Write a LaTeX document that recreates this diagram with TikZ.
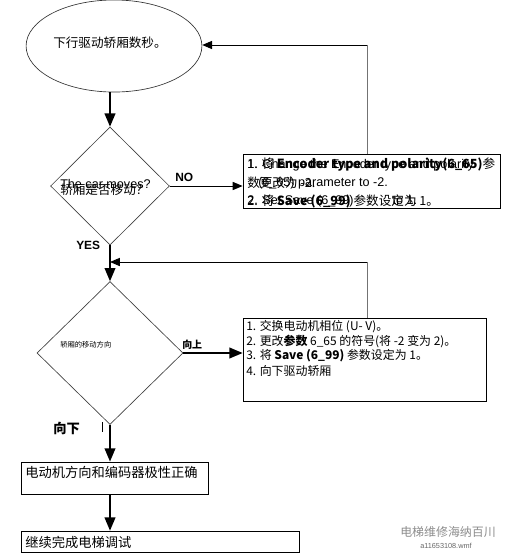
\documentclass[tikz,border=0pt]{standalone}
\usepackage{fontspec}
\setmainfont{Liberation Sans}
\newfontfamily\cjk{Noto Sans CJK SC}
\usepackage{tikz}
\usetikzlibrary{calc}
\usetikzlibrary{arrows}
\usetikzlibrary{shapes.geometric}

\tikzset{
  box/.style={draw,rectangle,inner sep=0pt,line width=0.7pt},
  decision/.style={draw=black!75,diamond,inner sep=0pt,line width=0.5pt},
  txt/.style={anchor=west,inner sep=0pt,font=\cjk\fontsize{9}{11}\selectfont},
  etxt/.style={anchor=west,inner sep=0pt,font=\fontsize{9.5}{11}\selectfont},
  flow/.style={-triangle 45,line width=1.3pt},
  back/.style={-triangle 45,line width=0.7pt},
}

\begin{document}
\begin{tikzpicture}[x=0.0265cm,y=-0.0265cm]

\useasboundingbox (0,0) rectangle (511,560);

% shapes
\node [draw=black!80,ellipse,line width=0.5pt,minimum width=4.66cm,minimum height=2.44cm,inner sep=0pt] (el) at (114,46) {};
\node [decision,minimum width=3.15cm,minimum height=3.13cm] (d1) at (110,186) {};
\node [decision,minimum width=3.87cm,minimum height=3.79cm] (d2) at (110,353) {};
\node [box,minimum width=6.81cm,minimum height=1.43cm] (b1) at (371.5,181) {};
\node [box,minimum width=6.44cm,minimum height=2.20cm] (b2) at (364.5,359.5) {};
\node [box,minimum width=4.98cm,minimum height=0.85cm] (b3) at (115,478) {};
\node [box,minimum width=7.39cm,minimum height=0.58cm] (b4) at (160.5,542) {};

% texts
\node [txt,font=\cjk\fontsize{9.5}{11}\selectfont] (t0) at (53,43) {下行驱动轿厢数秒。};

\node [etxt] (q1e) at (60,184) {The car moves?};
\node [txt,font=\cjk\fontsize{9.5}{11}\selectfont] (q1c) at (60,190) {轿厢是否移动？};
\node [txt,font=\cjk\fontsize{5.5}{6}\selectfont] (q2) at (60,345) {轿厢的移动方向};

\node [etxt] (e1) at (247,165) {1. Change the Encoder type and polarity};
\node [etxt] (e2) at (258,183) {(6\_65) parameter to -2.};
\node [etxt] (e3) at (247,201) {2. Set Save (6\_99)\hspace*{3.1em}to 1.};
\node [txt,font=\cjk\fontsize{9.5}{11}\selectfont] (c1) at (247,165) {1. 将 \textbf{Encoder type and polarity(6\_65)}参};
\node [txt,font=\cjk\fontsize{9.5}{11}\selectfont] (c2) at (247,183) {数更改为 -2.};
\node [txt,font=\cjk\fontsize{9.5}{11}\selectfont] (c3) at (247,201) {2. 将 \textbf{Save (6\_99)} 参数设定为 1。};

\node [txt] (s1) at (246,327) {1. 交换电动机相位 (U- V)。};
\node [txt] (s2) at (246,341) {2. 更改\textbf{参数} 6\_65 的符号(将 -2 变为 2)。};
\node [txt] (s3) at (246,356) {3. 将 \textbf{Save (6\_99)} 参数设定为 1。};
\node [txt] (s4) at (246,371) {4. 向下驱动轿厢};

\node [txt,font=\cjk\fontsize{10}{12}\selectfont] (t3) at (25,472) {电动机方向和编码器极性正确};
\node [txt,font=\cjk\fontsize{10}{12}\selectfont] (t4) at (25,542) {继续完成电梯调试};

\node [etxt,font=\bfseries\fontsize{9}{11}\selectfont] (no) at (175,177) {NO};
\node [etxt,font=\bfseries\fontsize{9}{11}\selectfont] (yes) at (76,245) {YES};
\node [txt,font=\cjk\bfseries\fontsize{7.5}{9}\selectfont] (up) at (182,345) {向上};
\node [txt,font=\cjk\bfseries\fontsize{10}{12}\selectfont] (down) at (53,428) {向下};
\draw [line width=0.4pt] (102,422)--(102,432);

% connectors
\draw [flow] (el.south -| d1.north) -- (d1.north);
\draw [flow] (d1.south) -- (d2.north);
\draw [flow] (d2.south) -- (d2.south |- b3.north);
\draw [flow] (d2.south |- b3.south) -- (d2.south |- b4.north);
\draw [back] (d1.east) -- (d1.east -| b1.west);
\draw [flow] (d2.east) -- (d2.east -| b2.west);

\coordinate (r1) at (367,45);
\coordinate (r2) at (367,262);
\draw [black!55,line width=0.7pt] (b1.north -| r1) -- (r1);
\draw [back] (r1) -- (r1 -| el.east);
\draw [black!55,line width=0.7pt] (b2.north -| r2) -- (r2);
\draw [back] (r2) -- (r2 -| d1.south);

% watermark
\node [txt,text=black!45,font=\cjk\fontsize{9}{11}\selectfont] (wm) at (400,532) {电梯维修海纳百川};
\node [etxt,text=black!60,font=\fontsize{5.5}{6}\selectfont] (wf) at (420,546) {a11653108.wmf};

\end{tikzpicture}
\end{document}
